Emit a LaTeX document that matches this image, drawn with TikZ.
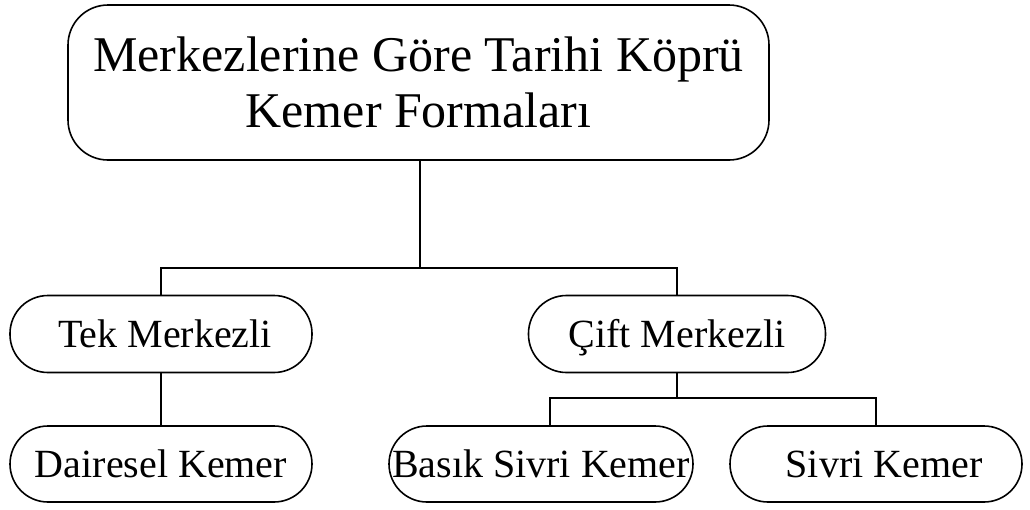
\documentclass[tikz,border=0pt]{standalone}
\usepackage{fontspec}
\setmainfont{Liberation Serif}
\begin{document}
\begin{tikzpicture}[x=1pt,y=-1pt,
  box/.style={draw=black,line width=1.6pt,rounded corners=38pt,inner sep=0pt,
    font=\fontsize{40}{44}\selectfont,minimum height=77pt,text height=35pt,text depth=9pt},
  title/.style={draw=black,line width=1.6pt,rounded corners=40pt,inner sep=0pt,align=center,
    font=\fontsize{50}{56}\selectfont,minimum width=701pt,minimum height=155pt},
  conn/.style={draw=black,line width=1.6pt}]
\useasboundingbox (0,0) rectangle (1030,509);
\node[title] (top) at (418.5,82.5) {Merkezlerine Göre Tarihi Köprü\\Kemer Formaları};
\node[box,minimum width=302pt] (tek) at (161,334) {\hspace{8pt}Tek Merkezli};
\node[box,minimum width=297pt] (cift) at (677,334) {Çift Merkezli};
\node[box,minimum width=302pt,minimum height=76pt] (dair) at (161,464) {Dairesel Kemer\hspace{8pt}};
\node[box,minimum width=304pt,minimum height=76pt] (basik) at (541,464) {Basık Sivri Kemer};
\node[box,minimum width=292pt,minimum height=76pt] (sivri) at (876,464) {\hspace{16pt}Sivri Kemer};
\coordinate (j1) at (420,268);
\coordinate (j2) at (677,398);
\draw[conn] (top.south -| j1) -- (j1);
\draw[conn] (tek.north) -- (tek.north |- j1) -- (cift.north |- j1) -- (cift.north);
\draw[conn] (tek.south) -- (dair.north);
\draw[conn] (cift.south) -- (cift.south |- j2);
\draw[conn] ([xshift=9pt]basik.north) -- ([xshift=9pt]basik.north |- j2) -- (sivri.north |- j2) -- (sivri.north);
\end{tikzpicture}
\end{document}
